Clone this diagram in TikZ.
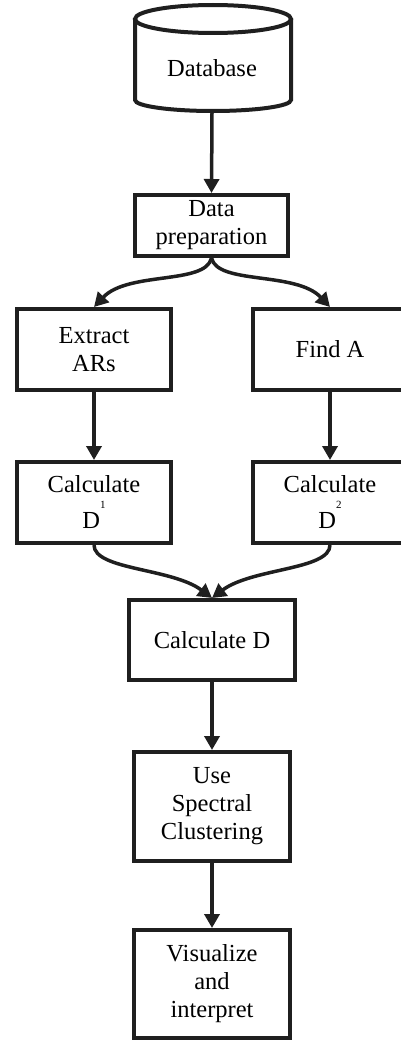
\documentclass[tikz,border=0pt]{standalone}
\usepackage{fontspec}
\setmainfont{Liberation Serif}
\usetikzlibrary{arrows.meta}
\begin{document}
\begin{tikzpicture}[x=1pt,y=-1pt,
  box/.style={draw=black!88, line width=4pt, rectangle, align=center,
    inner sep=0pt, font=\fontsize{24.5}{28}\selectfont},
  arr/.style={draw=black!88, line width=3.5pt,
    -{Triangle[width=15pt,length=14pt]}}]
\newcommand\supidx[1]{\raisebox{20pt}{\fontsize{11}{11}\selectfont #1}}
\useasboundingbox (0,0) rectangle (401,1041);
\clip (0,0) rectangle (401,1041);

% database cylinder
\draw[draw=black!88, line width=4pt]
  (135,19) -- (135,100) arc[start angle=180, end angle=360, x radius=78pt, y radius=11pt]
  -- (291,19);
\draw[draw=black!88, line width=4pt] (213,19) ellipse[x radius=78pt, y radius=14pt];
\node[box, draw=none, minimum width=156pt, minimum height=107pt] (db) at (212,57.5) {};
\node[font=\fontsize{24.5}{28}\selectfont] (dbtext) at (212,68) {Database};

% process boxes
\node[box, minimum width=153pt, minimum height=61pt] (prep) at (211.5,225.5) {Data\\preparation};
\node[box, minimum width=154pt, minimum height=81pt] (ext) at (94,349.5) {Extract\\ARs};
\node[box, minimum width=154pt, minimum height=81pt] (find) at (330,349.5) {Find A};
\node[box, minimum width=154pt, minimum height=81pt] (cd1) at (94,502.5)
  {Calculate\\[8pt]D\supidx{1}};
\node[box, minimum width=154pt, minimum height=81pt] (cd2) at (330,502.5)
  {Calculate\\[8pt]D\supidx{2}};
\node[box, minimum width=166pt, minimum height=80pt] (cd) at (212,640) {Calculate D};
\node[box, minimum width=156pt, minimum height=109pt] (spec) at (212,806.5) {Use\\Spectral\\Clustering};
\node[box, minimum width=156pt, minimum height=108pt] (vis) at (212,984) {Visualize\\and\\interpret};

% connectors
\draw[arr] (db.south) -- (prep.north);
\draw[arr] (prep.south) .. controls +(-6,27) and +(34,-36) .. (ext.north);
\draw[arr] (prep.south) .. controls +(6,27) and +(-34,-36) .. (find.north);
\draw[arr] (ext) -- (cd1);
\draw[arr] (find) -- (cd2);
\draw[arr] (cd1.south) .. controls +(0,25) and +(-40,-30) .. (cd.north);
\draw[arr] (cd2.south) .. controls +(0,25) and +(40,-30) .. (cd.north);
\draw[arr] (cd) -- (spec);
\draw[arr] (spec) -- (vis);
\end{tikzpicture}
\end{document}
